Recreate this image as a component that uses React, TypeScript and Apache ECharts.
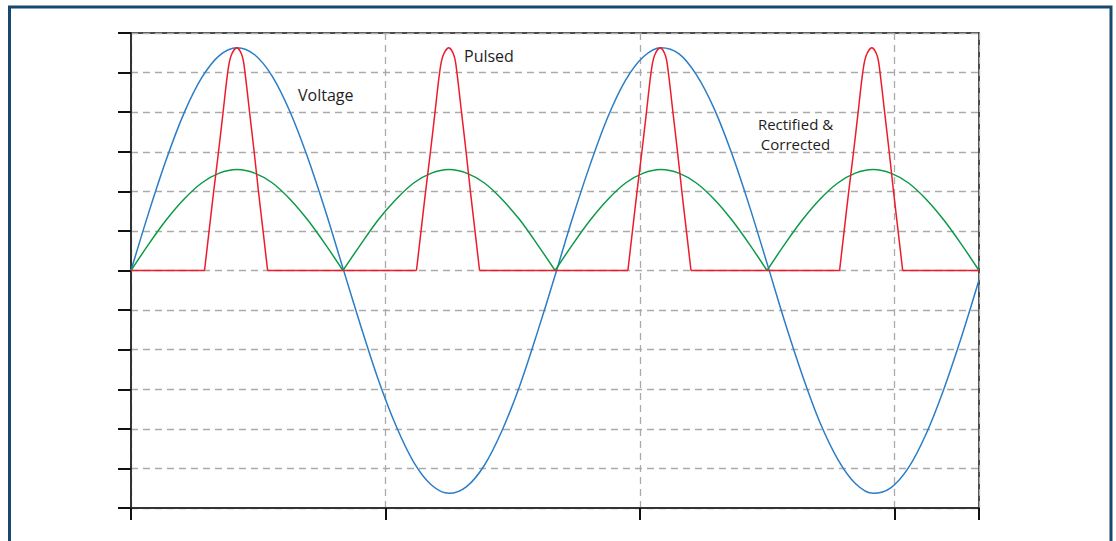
import React, { useEffect, useRef } from "react";
import * as echarts from "echarts";

// time axis in milliseconds (60 Hz, two full cycles)
const times: number[] = [
  0, 0.69, 1.39, 2.08, 2.78, 3.47, 4.17, 4.86, 5.56, 6.25, 6.94, 7.64, 8.33,
  9.03, 9.72, 10.42, 11.11, 11.81, 12.5, 13.19, 13.89, 14.58, 15.28, 15.97, 16.67,
  17.36, 18.06, 18.75, 19.44, 20.14, 20.83, 21.53, 22.22, 22.92, 23.61, 24.31, 25.0,
  25.69, 26.39, 27.08, 27.78, 28.47, 29.17, 29.86, 30.56, 31.25, 31.94, 32.64, 33.33,
];

const voltage: number[] = [
  0, 1.45, 2.81, 3.97, 4.87, 5.43, 5.63, 5.45, 4.9, 4.01, 2.86, 1.51, 0.06,
  -1.4, -2.76, -3.93, -4.84, -5.42, -5.63, -5.46, -4.92, -4.05, -2.91, -1.57, -0.12,
  1.34, 2.7, 3.89, 4.81, 5.4, 5.63, 5.48, 4.95, 4.09, 2.96, 1.62, 0.18,
  -1.28, -2.65, -3.84, -4.77, -5.38, -5.63, -5.49, -4.98, -4.13, -3.01, -1.68, -0.24,
];

// one rectified half-wave (13 samples), repeated over each half cycle
const rectifiedHalf: number[] = [0, 0.66, 1.28, 1.8, 2.21, 2.46, 2.55, 2.46, 2.21, 1.8, 1.28, 0.66, 0];

// pulsed current: four pulses, joined by flat zero stretches
const pulse1: [number, number][] = [
  [2.89, 0], [3.07, 1], [3.25, 2], [3.44, 3], [3.62, 4], [3.8, 5], [3.93, 5.42],
  [4.16, 5.63], [4.37, 5.42], [4.48, 5], [4.66, 4], [4.84, 3], [5.01, 2], [5.19, 1], [5.37, 0],
];
const pulse2: [number, number][] = [
  [11.22, 0], [11.4, 1], [11.58, 2], [11.77, 3], [11.95, 4], [12.13, 5], [12.26, 5.42],
  [12.49, 5.63], [12.7, 5.42], [12.81, 5], [12.99, 4], [13.17, 3], [13.34, 2], [13.52, 1], [13.7, 0],
];
const pulse3: [number, number][] = [
  [19.53, 0], [19.71, 1], [19.89, 2], [20.08, 3], [20.26, 4], [20.44, 5], [20.57, 5.42],
  [20.8, 5.63], [21.01, 5.42], [21.12, 5], [21.3, 4], [21.48, 3], [21.65, 2], [21.83, 1], [22.01, 0],
];
const pulse4: [number, number][] = [
  [27.85, 0], [28.03, 1], [28.21, 2], [28.4, 3], [28.58, 4], [28.76, 5], [28.89, 5.42],
  [29.12, 5.63], [29.33, 5.42], [29.44, 5], [29.62, 4], [29.8, 3], [29.97, 2], [30.15, 1], [30.33, 0],
];
const pulseStart = 0;
const pulseEnd = 33.33;

const xMin = 0;
const xMax = 33.33;
const xInterval = 10;
const yMin = -6;
const yMax = 6;
const yInterval = 1;

const labelVoltage = "Voltage";
const labelPulsed = "Pulsed";
const labelRectified1 = "Rectified &";
const labelRectified2 = "Corrected";

const BLUE = "#2a7dc7";
const RED = "#ec1c2a";
const GREEN = "#0c9a47";

export default function App() {
  const ref = useRef<HTMLDivElement>(null);

  useEffect(() => {
    if (!ref.current) return;
    const chart = echarts.init(ref.current, undefined, { renderer: "svg" });

    const voltageData = times.map((t, i) => [t, voltage[i]]);
    const greenSeries = [0, 1, 2, 3].map((seg) => ({
      type: "line" as const,
      name: "Rectified & Corrected",
      data: rectifiedHalf.map((v, i) => [times[seg * 12 + i], v]),
      smooth: 0.33,
      showSymbol: false,
      symbol: "none",
      lineStyle: { color: GREEN, width: 1.5 },
      z: 3,
    }));

    // red: flat parts as straight segments, pulses as smooth segments
    const gap: any = ["-", "-"];
    const pulses = [pulse1, pulse2, pulse3, pulse4];
    const flatData: any[] = [];
    let prevEnd = pulseStart;
    pulses.forEach((p) => {
      flatData.push([prevEnd, 0], p[0], gap);
      prevEnd = p[p.length - 1][0];
    });
    flatData.push([prevEnd, 0], [pulseEnd, 0]);
    const pulseData: any[] = [];
    pulses.forEach((p, i) => {
      if (i > 0) pulseData.push(gap);
      pulseData.push(...p);
    });

    const font = "'Open Sans', sans-serif";
    const textStyle = (text: string, align: string, size: number) => ({
      text,
      fill: "#1e1e1e",
      font: `${size}px ${font}`,
      textAlign: align,
      textVerticalAlign: "middle",
    });

    chart.setOption({
      animation: false,
      grid: {
        left: 131,
        top: 33,
        width: 848,
        height: 475,
        show: true,
        borderColor: "#111",
        borderWidth: 1.5,
        backgroundColor: "transparent",
      },
      xAxis: {
        type: "value",
        min: xMin,
        max: xMax,
        interval: xInterval,
        axisLine: { show: true, onZero: false, lineStyle: { color: "#333", width: 2 } },
        axisTick: { show: true, inside: false, length: 12, lineStyle: { color: "#111", width: 2 } },
        axisLabel: { show: false },
        splitLine: { show: true, lineStyle: { color: "#aaa", width: 1.3, type: [7, 5] } },
      },
      yAxis: {
        type: "value",
        min: yMin,
        max: yMax,
        interval: yInterval,
        axisLine: { show: true, onZero: false, lineStyle: { color: "#333", width: 2 } },
        axisTick: { show: true, inside: false, length: 13, lineStyle: { color: "#111", width: 2 } },
        axisLabel: { show: false },
        splitLine: { show: true, lineStyle: { color: "#aaa", width: 1.3, type: [7, 5] } },
      },
      series: [
        {
          type: "line",
          name: "Voltage",
          data: voltageData,
          smooth: 0.33,
          showSymbol: false,
          symbol: "none",
          lineStyle: { color: BLUE, width: 1.5 },
          z: 2,
        },
        ...greenSeries,
        {
          type: "line",
          name: "Pulsed",
          data: flatData,
          connectNulls: false,
          smooth: false,
          showSymbol: false,
          symbol: "none",
          lineStyle: { color: RED, width: 1.5 },
          z: 4,
        },
        {
          type: "line",
          name: "Pulsed",
          data: pulseData,
          connectNulls: false,
          smooth: 0.33,
          showSymbol: false,
          symbol: "none",
          lineStyle: { color: RED, width: 1.5 },
          z: 4,
        },
      ],
      graphic: [
        {
          type: "rect",
          shape: { x: 9.5, y: 7, width: 1101.5, height: 580 },
          style: { fill: "none", stroke: "#17496e", lineWidth: 3 },
          silent: true,
        },
        { type: "text", x: 298, y: 95, style: textStyle(labelVoltage, "left", 16) },
        { type: "text", x: 464, y: 56, style: textStyle(labelPulsed, "left", 16) },
        { type: "text", x: 795.5, y: 123.5, style: textStyle(labelRectified1, "center", 15) },
        { type: "text", x: 795.5, y: 143.5, style: textStyle(labelRectified2, "center", 15) },
      ],
    });

    return () => chart.dispose();
  }, []);

  return (
    <div
      ref={ref}
      style={{ position: "absolute", left: 0, top: 0, width: 1116, height: 541 }}
    />
  );
}
